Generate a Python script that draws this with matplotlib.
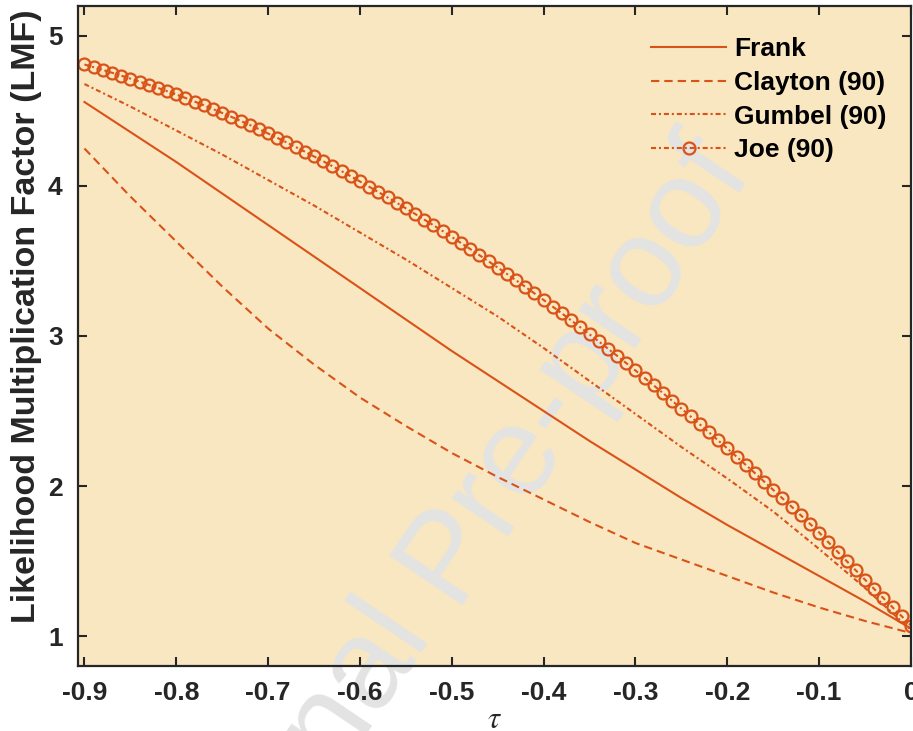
import numpy as np
import matplotlib
matplotlib.use('Agg')
import matplotlib.pyplot as plt

plt.rcParams['font.family'] = ['Liberation Sans', 'DejaVu Sans']
plt.rcParams['mathtext.fontset'] = 'stix'

# values, tau step 0.05 for the plain lines
tau = np.linspace(-0.9, 0.0, 19)
frank = [4.56, 4.36, 4.16, 3.95, 3.74, 3.53, 3.32, 3.11, 2.90, 2.70,
         2.50, 2.30, 2.11, 1.92, 1.74, 1.57, 1.40, 1.23, 1.05]
clayton = [4.25, 3.93, 3.63, 3.33, 3.05, 2.81, 2.59, 2.40, 2.22, 2.06,
           1.91, 1.76, 1.62, 1.51, 1.40, 1.29, 1.19, 1.10, 1.02]
gumbel = [4.68, 4.53, 4.37, 4.21, 4.04, 3.87, 3.69, 3.51, 3.32, 3.13,
          2.92, 2.70, 2.48, 2.26, 2.05, 1.83, 1.58, 1.32, 1.04]

# Joe curve, one circle every 0.01
tau_joe = np.linspace(-0.9, 0.0, 91)
joe = [4.810, 4.792, 4.774, 4.755, 4.736, 4.716, 4.696, 4.675, 4.654, 4.632,
       4.610, 4.587, 4.563, 4.538, 4.513, 4.487, 4.461, 4.434, 4.407, 4.379,
       4.350, 4.321, 4.291, 4.260, 4.229, 4.197, 4.165, 4.132, 4.099, 4.065,
       4.030, 3.995, 3.960, 3.924, 3.888, 3.851, 3.814, 3.776, 3.738, 3.700,
       3.660, 3.620, 3.580, 3.539, 3.498, 3.456, 3.414, 3.371, 3.328, 3.284,
       3.240, 3.195, 3.150, 3.104, 3.058, 3.011, 2.964, 2.916, 2.868, 2.819,
       2.770, 2.720, 2.670, 2.619, 2.568, 2.516, 2.464, 2.411, 2.358, 2.304,
       2.250, 2.196, 2.141, 2.086, 2.030, 1.974, 1.918, 1.862, 1.805, 1.748,
       1.690, 1.625, 1.562, 1.499, 1.437, 1.375, 1.313, 1.252, 1.191, 1.131,
       1.070]

labels = ['Frank', 'Clayton (90)', 'Gumbel (90)', 'Joe (90)']
xticks = [-0.9, -0.8, -0.7, -0.6, -0.5, -0.4, -0.3, -0.2, -0.1, 0]
xticklabels = ['-0.9', '-0.8', '-0.7', '-0.6', '-0.5', '-0.4', '-0.3', '-0.2', '-0.1', '0']
yticks = [1, 2, 3, 4, 5]

col = '#D95319'
dark = '#262626'

fig = plt.figure(figsize=(9.13, 7.31), dpi=100)
ax = fig.add_axes([78/913, 65/731, 833/913, 660/731])
ax.set_facecolor('#F9E7C1')

ax.plot(tau, frank, color=col, lw=1.5, label=labels[0])
ax.plot(tau, clayton, color=col, lw=1.5, dashes=(4, 2.4), label=labels[1])
ax.plot(tau, gumbel, color=col, lw=1.5, dashes=(2.4, 1.4, 1.0, 1.4), label=labels[2])
ax.plot(tau_joe, joe, color=col, lw=1.5, dashes=(2.4, 1.4, 1.0, 1.4), marker='o',
        ms=8.6, mfc='none', mec=col, mew=1.6, label=labels[3])

ax.set_xlim(-0.907, 0)
ax.set_ylim(0.8, 5.2)
ax.set_xticks(xticks)
ax.set_xticklabels(xticklabels)
ax.set_yticks(yticks)
ax.tick_params(direction='in', top=True, right=True, length=6.5, width=1.5,
               colors=dark, labelsize=19, pad=11)
for t in ax.get_xticklabels() + ax.get_yticklabels():
    t.set_fontweight('bold')
for s in ax.spines.values():
    s.set_linewidth(1.6)
    s.set_color(dark)

ax.set_ylabel('Likelihood Multiplication Factor (LMF)', fontsize=24.5,
              fontweight='bold', color=dark)
ax.yaxis.set_label_coords(-0.043, 0.53)
ax.set_xlabel(r'$\tau$', fontsize=22, color=dark, labelpad=0)

leg = ax.legend(loc='upper left', bbox_to_anchor=(638/913, 1 - 24/731),
                bbox_transform=fig.transFigure, frameon=False, borderpad=0,
                handlelength=2.85, handletextpad=0.3, labelspacing=0.37,
                prop={'size': 19, 'weight': 'bold'})

# watermark stamped on the page
ang = 56
px, py = 452, 605
ax.text(px/913, 1 - py/731, 'Pre-proof', transform=fig.transFigure, rotation=ang,
        rotation_mode='anchor', ha='left', va='baseline', fontsize=92,
        color='#E3E3E3', zorder=1.5, clip_on=False)
sp = 36
ax.text((px - sp*np.cos(np.radians(ang)))/913, 1 - (py + sp*np.sin(np.radians(ang)))/731,
        'Journal', transform=fig.transFigure, rotation=ang, rotation_mode='anchor',
        ha='right', va='baseline', fontsize=92, color='#E3E3E3', zorder=1.5, clip_on=False)

fig.savefig('out.png', dpi=100)
